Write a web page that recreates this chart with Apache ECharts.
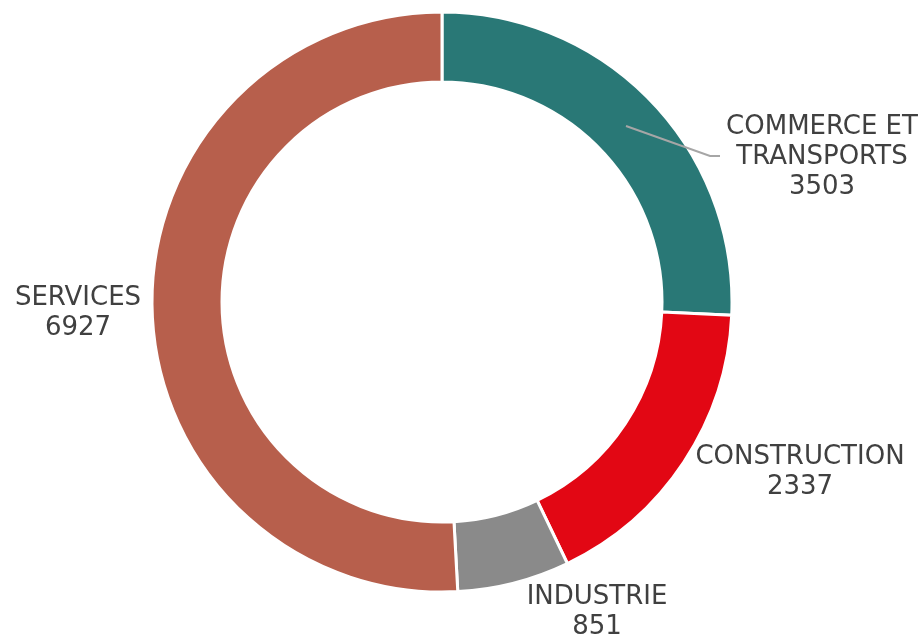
<!DOCTYPE html>
<html>
<head>
<meta charset="utf-8">
<script src="https://cdn.jsdelivr.net/npm/echarts@6/dist/echarts.min.js"></script>
<style>
  html, body { margin: 0; padding: 0; background: #fff; }
  #chart { width: 919px; height: 637px; }
</style>
</head>
<body>
<div id="chart"></div>
<script>
var categories = ['COMMERCE ET\nTRANSPORTS', 'CONSTRUCTION', 'INDUSTRIE', 'SERVICES']
var values = [3503, 2337, 851, 6927]
var colors = ['#297876', '#e20714', '#8a8a8a', '#b75f4c']

// where each label sits (centre of the text block)
var labelSpots = [[822, 157], [800, 472], [597, 612], [78, 313]]

var myChart = echarts.init(document.getElementById('chart'))

var option = {
  animation: false,
  // leader line of the first label, drawn on top of the ring
  graphic: [
    {
      type: 'polyline',
      z: 100,
      shape: { points: [[626, 126], [710, 156], [720, 156]] },
      style: { stroke: '#a6a6a6', lineWidth: 2, fill: null }
    }
  ],
  series: [
    {
      type: 'pie',
      center: [442, 302],
      radius: [220, 290],
      startAngle: 90,
      clockwise: true,
      itemStyle: {
        borderColor: '#fff',
        borderWidth: 3
      },
      label: {
        show: true,
        position: 'outside',
        formatter: function (p) { return p.name + '\n' + p.value },
        fontFamily: 'DejaVu Sans',
        fontSize: 26,
        lineHeight: 30,
        color: '#404040',
        align: 'center',
        overflow: 'none',
        width: 300
      },
      labelLine: {
        show: false
      },
      labelLayout: function (params) {
        var s = labelSpots[params.dataIndex]
        return {
          x: s[0],
          y: s[1],
          align: 'center',
          verticalAlign: 'middle'
        }
      },
      data: categories.map(function (name, i) {
        return {
          name: name,
          value: values[i],
          itemStyle: { color: colors[i] }
        }
      })
    }
  ]
}

myChart.setOption(option)
window.addEventListener('resize', function () { myChart.resize() })
</script>
</body>
</html>
